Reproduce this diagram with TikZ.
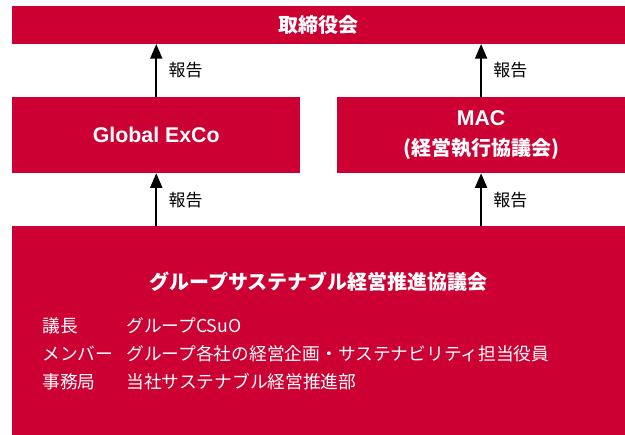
\documentclass[tikz,border=0pt]{standalone}
\usepackage{fontspec}
\setmainfont{Noto Sans CJK JP}
\newfontfamily\arialfont{Liberation Sans}
\usetikzlibrary{arrows.meta}
\definecolor{brand}{RGB}{204,0,51}
\tikzset{
  box/.style={fill=brand, draw=none, inner sep=0pt, anchor=north west, text=white,
    font=\bfseries\fontsize{15pt}{23pt}\selectfont, align=center},
  arr/.style={line width=1.5pt, -{Triangle[width=9pt,length=11pt]}},
  lab/.style={inner sep=0pt, anchor=west, xshift=8.5pt, font=\fontsize{12.75pt}{15pt}\selectfont},
  row/.style={inner sep=0pt, anchor=west, text=white, font=\fontsize{13.3pt}{16pt}\selectfont},
  ttl/.style={inner sep=0pt, text=white, font=\bfseries\fontsize{15pt}{18pt}\selectfont}
}
\begin{document}
\begin{tikzpicture}[x=0.75pt,y=-0.75pt]
\useasboundingbox (0,0) rectangle (625,435);
\node[box, minimum width=459.75pt, minimum height=28.125pt] (board) at (12,6) {取締役会};
\node[box, minimum width=216pt, minimum height=57pt] (gex) at (12,96.7) {\arialfont\fontsize{16pt}{23pt}\selectfont Global ExCo};
\node[box, minimum width=216.2pt, minimum height=57pt] (mac) at (336.7,96.7) {{\arialfont\fontsize{16pt}{23pt}\selectfont MAC}\\(経営執行協議会)};
\node[box, minimum width=459.75pt, minimum height=156.75pt] (bot) at (12,226) {};
\node[ttl] (bottitle) at (318.5,281.5) {グループサステナブル経営推進協議会};
\node[row] (k1) at (42,326) {議長};
\node[row] (v1) at (126,326) {グループCSuO};
\node[row] (k2) at (42,354) {メンバー};
\node[row] (v2) at (126,354) {グループ各社の経営企画・サステナビリティ担当役員};
\node[row] (k3) at (42,382) {事務局};
\node[row] (v3) at (126,382) {当社サステナブル経営推進部};
\draw[arr] (gex.north) -- node[lab] (l1) {報告} (gex.north |- board.south);
\draw[arr] (mac.north) -- node[lab] (l2) {報告} (mac.north |- board.south);
\draw[arr] (bot.north -| gex.north) -- node[lab] (l3) {報告} (gex.south);
\draw[arr] (bot.north -| mac.north) -- node[lab] (l4) {報告} (mac.south);
\end{tikzpicture}
\end{document}
